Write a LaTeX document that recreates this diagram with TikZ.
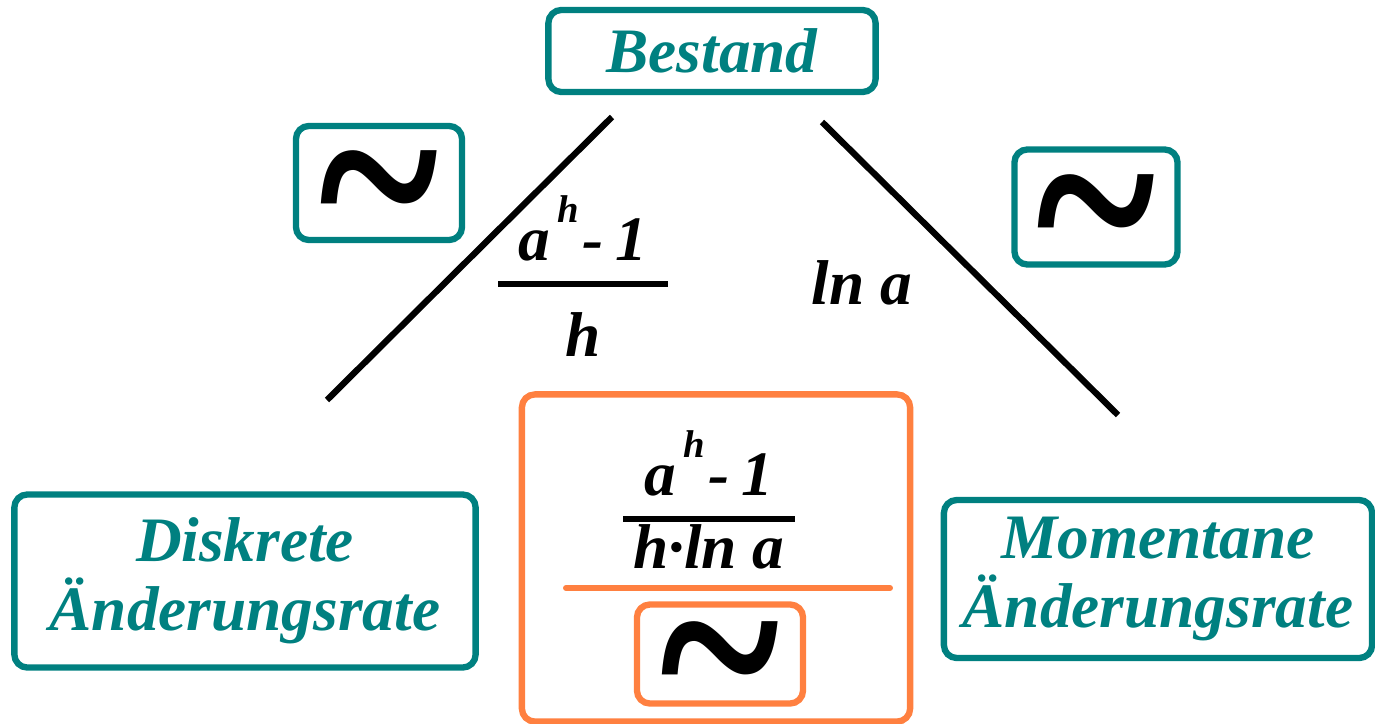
\documentclass[tikz,border=0pt]{standalone}
\usepackage{fontspec}
\setmainfont{Liberation Serif}
\usepackage{graphicx}
\usetikzlibrary{positioning,calc}
\definecolor{tealbox}{HTML}{008080}
\definecolor{orangebox}{HTML}{FF8040}
\newcommand{\swung}{\raisebox{-25pt}[0pt][0pt]{\scalebox{1.05}[1.3]{\fontsize{62}{62}\selectfont\bfseries\textasciitilde}}}
\newcommand{\powh}{a\kern0.12em\raisebox{0.6em}{\fontsize{11}{11}\selectfont h}\kern0.05em-\kern0.2em1}
\tikzset{
  tbox/.style={draw=tealbox,line width=1.8pt,rounded corners=0.13cm,inner sep=0pt},
  obox/.style={tbox,draw=orangebox},
  lbl/.style={font=\fontsize{18}{19.5}\selectfont\bfseries\itshape,text=tealbox,align=center},
  mlbl/.style={font=\fontsize{18}{20}\selectfont\bfseries\itshape,inner sep=0pt},
  sline/.style={line width=1.8pt},
  fbar/.style={line width=1.7pt}
}

\begin{document}
\begin{tikzpicture}[x=0.01cm,y=-0.01cm]
  \useasboundingbox (0,0) rectangle (1375,724);
  % boxes
  \node[tbox,lbl,minimum width=3.27cm,minimum height=0.82cm] (bestand) at (712,51) {Bestand};
  \node[tbox,lbl,minimum width=4.61cm,minimum height=1.73cm] (diskret) at (245,581) {Diskrete\\Änderungsrate};
  \node[tbox,lbl,minimum width=4.28cm,minimum height=1.58cm] (moment) at (1158,579) {Momentane\\Änderungsrate};
  \node[tbox,minimum width=1.66cm,minimum height=1.14cm] (tildeL) at (379,183) {\swung};
  \node[tbox,minimum width=1.63cm,minimum height=1.15cm] (tildeR) at (1096,207) {\swung};
  \node[obox,minimum width=3.88cm,minimum height=3.27cm] (ratio) at (716,558) {};
  \node[obox,minimum width=1.66cm,minimum height=0.99cm] (tildeM) at (720,654) {\swung};

  % triangle sides
  \coordinate (lt) at (612,117);
  \coordinate (lb) at (327,400);
  \coordinate (rt) at (822,122);
  \coordinate (rb) at (1118,415);
  \draw[sline] (lt) -- (lb);
  \draw[sline] (rt) -- (rb);

  % left fraction
  \coordinate (barLa) at (498,284);
  \coordinate (barLb) at (668,284);
  \draw[fbar] (barLa) -- (barLb);
  \node[mlbl,above=0.22cm of $(barLa)!0.5!(barLb)$] (numL) {\powh};
  \node[mlbl,below=0.28cm of $(barLa)!0.5!(barLb)$] (denL) {h};

  \node[mlbl] (lna) at (862,283) {ln a};

  % middle fraction
  \coordinate (barMa) at (623,519);
  \coordinate (barMb) at (795,519);
  \draw[fbar] (barMa) -- (barMb);
  \node[mlbl,above=0.22cm of $(barMa)!0.5!(barMb)$] (numM) {\powh};
  \node[mlbl,below=0.05cm of $(barMa)!0.5!(barMb)$] (denM) {h·ln a};
  \coordinate (sepa) at (566,588);
  \coordinate (sepb) at (890,588);
  \draw[fbar,draw=orangebox,line cap=round] (sepa) -- (sepb);
\end{tikzpicture}
\end{document}
